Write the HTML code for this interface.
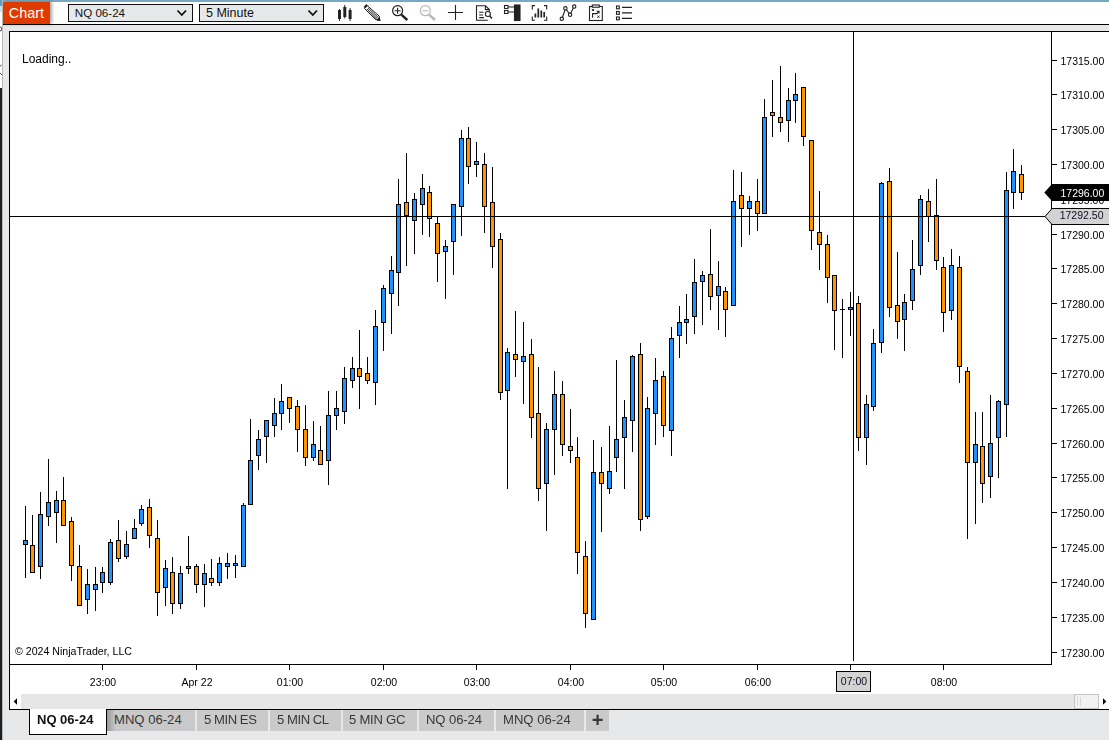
<!DOCTYPE html>
<html><head><meta charset="utf-8"><title>Chart</title>
<style>
html,body{margin:0;padding:0;}
body{-webkit-font-smoothing:antialiased;width:1109px;height:740px;overflow:hidden;background:#e7e8e9;font-family:"Liberation Sans",sans-serif;position:relative;}
.abs{position:absolute;}
#topstrip{left:0;top:0;width:1109px;height:2px;background:#78a9c2;}
#toolbar{left:3px;top:2px;width:1106px;height:22px;background:#fff;}
#tbline{left:3px;top:24px;width:1106px;height:1px;background:#000;}
#chartbtn{left:3px;top:2px;width:47px;height:22px;background:#df3b00;color:#fff;font-size:15px;line-height:22px;text-align:center;box-shadow:2px 0 3px rgba(0,0,0,.35);}
.dd{top:4px;height:16px;border:1px solid #111;background:#e6e9ea;font-size:12px;line-height:16px;color:#111;box-sizing:content-box;}
.dd span{position:absolute;left:6px;top:0;}
#leftstrip{left:0;top:0;width:2px;height:740px;background:linear-gradient(#5f9fbd 0,#5f9fbd 6px,#cfe0ea 6px,#cfe0ea 12px,#fff 12px,#fff 88px,#1d1f22 88px);}
#leftline{left:2px;top:0;width:1px;height:740px;background:#b8b8b8;}
#panel{left:9px;top:31px;width:1100px;height:679px;background:#fff;border-left:1px solid #000;border-top:1px solid #000;border-bottom:1px solid #000;box-sizing:border-box;}
svg text.ax{font-family:"Liberation Sans",sans-serif;font-size:10.5px;fill:#000;}
#scroll{left:10px;top:694px;width:1099px;height:15px;background:#e6e6e6;}
.tab{top:710px;height:21px;background:#cacaca;color:#383838;font-size:13.1px;line-height:20px;text-align:left;padding-left:7px;box-sizing:border-box;white-space:nowrap;}
#tabact{left:29px;top:709px;width:78px;height:26px;background:#fff;border:1px solid #000;border-top:none;box-sizing:border-box;font-weight:bold;font-size:13px;line-height:21px;text-align:left;padding-left:7px;color:#111;z-index:3;}
</style></head><body>
<div id="topstrip" class="abs"></div>
<div id="toolbar" class="abs"></div>
<div id="tbline" class="abs"></div>
<div id="leftstrip" class="abs"></div>
<div id="leftline" class="abs"></div>
<svg class="abs" style="left:0;top:0" width="2" height="100" viewBox="0 0 2 100"><g fill="none" stroke="#333" stroke-width="0.9"><circle cx="-0.3" cy="29" r="2.1"/><path d="M-0.5 66.5 Q1 66 2 64.5 M-0.5 73 Q1 73.5 2 75"/></g></svg>
<div id="chartbtn" class="abs"><span style="display:inline-block;transform:scaleX(.96);transform-origin:50% 50%">Chart</span></div>
<div class="abs dd" style="left:68px;width:123px;"><span style="font-size:11.6px;left:5.8px">NQ 06-24</span></div>
<div class="abs dd" style="left:199px;width:123px;"><span style="font-size:12.5px;left:6px">5 Minute</span></div>
<svg class="abs" style="left:0;top:0" width="1109" height="30" viewBox="0 0 1109 30">
<!-- dropdown chevrons -->
<path d="M177.5 10.5 L181.8 15 L186 10.5" fill="none" stroke="#111" stroke-width="1.8"/>
<path d="M308.5 10.5 L312.8 15 L317 10.5" fill="none" stroke="#111" stroke-width="1.8"/>
<!-- bars icon -->
<g fill="#222"><rect x="338" y="10" width="3" height="9"/><rect x="339" y="9" width="1" height="12"/>
<rect x="343.3" y="7" width="3" height="10"/><rect x="344.3" y="5" width="1" height="13.5"/>
<rect x="348.6" y="10" width="3" height="9"/><rect x="349.6" y="8" width="1" height="13"/></g>
<!-- pencil -->
<g fill="none" stroke="#222" stroke-width="1"><path d="M364.6 8.6 L367.4 5.7 L379.2 16.2 L379.9 20.5 L375.6 19.5 Z" fill="#fff"/><path d="M365.9 10 L376.4 19.7 M366.9 9 L377.6 18.9 M368 7.9 L378.6 17.8"/><path d="M364.3 7.6 L367 4.8" stroke-width="2"/><path d="M377.2 19.9 L379.9 20.6 L379.4 17.8 Z" fill="#222"/></g>
<!-- zoom in -->
<g fill="none" stroke="#222"><circle cx="397.6" cy="10.7" r="5" stroke-width="1.2"/><path d="M394.6 10.7 H400.6 M397.6 7.7 V13.7" stroke-width="1.1"/><path d="M401.3 14.6 L407.3 20" stroke-width="2.4"/></g>
<!-- zoom out -->
<g fill="none" stroke="#b9b9b9"><circle cx="425.3" cy="10.7" r="5" stroke-width="1.2"/><path d="M422.3 10.7 H428.3" stroke-width="1.1"/><path d="M429 14.6 L435 20" stroke-width="2.4"/></g>
<!-- crosshair -->
<path d="M448 12.5 H463 M455.5 5 V20" stroke="#222" stroke-width="1.1" fill="none"/>
<!-- doc search -->
<g fill="none" stroke="#222" stroke-width="1.1"><path d="M485.4 5.7 H476.5 V20.3 H487.8 M485.4 5.7 L489.3 9.6 V11.6 M485.4 5.7 V9.6 H489.3" /><path d="M479.2 12.3 H483.6 M479.2 15 H483 M479.2 17.6 H484"/><circle cx="487.9" cy="14" r="2.5" fill="#fff"/><path d="M489.7 15.9 L492 18.4" stroke-width="1.5"/></g>
<!-- data box -->
<g fill="none" stroke="#222" stroke-width="1.1"><rect x="504.5" y="5.5" width="3.5" height="3"/><rect x="504.5" y="10.5" width="3.5" height="3"/><path d="M508 7 H514.5 M508 12 H514.5"/><rect x="514.5" y="5" width="5.5" height="15.5" fill="#222"/></g>
<!-- bars in brackets -->
<g fill="none" stroke="#222" stroke-width="1.1"><path d="M535 5.6 H532.3 V9.4 M532.3 16.6 V20.2 H535 M544 5.6 H546.7 V9.4 M546.7 16.6 V20.2 H544"/><path d="M535.4 17.6 V13.4 M538.3 17.6 V8.4 M541.3 17.6 V10.6 M544.2 17.6 V12" stroke-width="1.7"/></g>
<!-- line chart -->
<g fill="#fff" stroke="#222" stroke-width="1.1"><path d="M562 18.5 L565.5 8.5 L570 14.5 L574 6.8" fill="none"/><circle cx="561.8" cy="18.8" r="1.7"/><circle cx="565.4" cy="8.3" r="1.7"/><circle cx="570.1" cy="14.8" r="1.7"/><circle cx="574.2" cy="6.6" r="1.7"/></g>
<!-- strategy doc -->
<g fill="none" stroke="#222" stroke-width="1.1"><rect x="589.5" y="6.5" width="12.8" height="14"/><rect x="592.3" y="5" width="7" height="2.2" fill="#fff"/><path d="M592.6 17.8 V13.6 H597 L598.8 11.4 M596.6 11.2 H599 V13.6" stroke-width="1.1"/><path d="M591.8 8.8 L594 11 M594 8.8 L591.8 11 M597.3 15.6 L599.5 17.8 M599.5 15.6 L597.3 17.8" stroke-width="1"/></g>
<!-- list -->
<g fill="none" stroke="#222" stroke-width="1.1"><rect x="616.5" y="6" width="2.8" height="2.8"/><rect x="616.5" y="11.5" width="2.8" height="2.8"/><rect x="616.5" y="17" width="2.8" height="2.8"/><path d="M622 7.4 H632 M622 12.9 H632 M622 18.4 H632"/></g>
</svg>
<div id="panel" class="abs"></div>
<div id="scroll" class="abs"></div>
<svg class="abs" style="left:0;top:0;will-change:transform" width="1109" height="740" viewBox="0 0 1109 740" shape-rendering="crispEdges">
<!-- axis lines -->
<rect x="1051" y="32" width="1" height="633" fill="#000"/>
<rect x="10" y="664" width="1042" height="1" fill="#000"/>
<rect x="25" y="506" width="1" height="72" fill="#000"/>
<rect x="23" y="540" width="5" height="5" fill="#000"/>
<rect x="24" y="541" width="3" height="3" fill="#1f92ff"/>
<rect x="32" y="515" width="1" height="58" fill="#000"/>
<rect x="30" y="545" width="5" height="28" fill="#000"/>
<rect x="31" y="546" width="3" height="26" fill="#ff9400"/>
<rect x="40" y="492" width="1" height="87" fill="#000"/>
<rect x="38" y="514" width="5" height="53" fill="#000"/>
<rect x="39" y="515" width="3" height="51" fill="#1f92ff"/>
<rect x="48" y="459" width="1" height="67" fill="#000"/>
<rect x="46" y="502" width="5" height="15" fill="#000"/>
<rect x="47" y="503" width="3" height="13" fill="#1f92ff"/>
<rect x="56" y="491" width="1" height="52" fill="#000"/>
<rect x="54" y="500" width="5" height="13" fill="#000"/>
<rect x="55" y="501" width="3" height="11" fill="#1f92ff"/>
<rect x="63" y="477" width="1" height="49" fill="#000"/>
<rect x="61" y="500" width="5" height="26" fill="#000"/>
<rect x="62" y="501" width="3" height="24" fill="#ff9400"/>
<rect x="71" y="517" width="1" height="64" fill="#000"/>
<rect x="69" y="521" width="5" height="45" fill="#000"/>
<rect x="70" y="522" width="3" height="43" fill="#ff9400"/>
<rect x="79" y="545" width="1" height="61" fill="#000"/>
<rect x="77" y="566" width="5" height="40" fill="#000"/>
<rect x="78" y="567" width="3" height="38" fill="#ff9400"/>
<rect x="87" y="569" width="1" height="45" fill="#000"/>
<rect x="85" y="584" width="5" height="16" fill="#000"/>
<rect x="86" y="585" width="3" height="14" fill="#1f92ff"/>
<rect x="95" y="567" width="1" height="44" fill="#000"/>
<rect x="93" y="584" width="5" height="6" fill="#000"/>
<rect x="94" y="585" width="3" height="4" fill="#1f92ff"/>
<rect x="102" y="567" width="1" height="26" fill="#000"/>
<rect x="100" y="572" width="5" height="11" fill="#000"/>
<rect x="101" y="573" width="3" height="9" fill="#1f92ff"/>
<rect x="110" y="539" width="1" height="46" fill="#000"/>
<rect x="108" y="542" width="5" height="41" fill="#000"/>
<rect x="109" y="543" width="3" height="39" fill="#1f92ff"/>
<rect x="118" y="520" width="1" height="42" fill="#000"/>
<rect x="116" y="540" width="5" height="19" fill="#000"/>
<rect x="117" y="541" width="3" height="17" fill="#ff9400"/>
<rect x="126" y="531" width="1" height="28" fill="#000"/>
<rect x="124" y="544" width="5" height="13" fill="#000"/>
<rect x="125" y="545" width="3" height="11" fill="#1f92ff"/>
<rect x="134" y="519" width="1" height="20" fill="#000"/>
<rect x="132" y="528" width="5" height="11" fill="#000"/>
<rect x="133" y="529" width="3" height="9" fill="#1f92ff"/>
<rect x="141" y="505" width="1" height="21" fill="#000"/>
<rect x="139" y="509" width="5" height="15" fill="#000"/>
<rect x="140" y="510" width="3" height="13" fill="#1f92ff"/>
<rect x="149" y="499" width="1" height="49" fill="#000"/>
<rect x="147" y="507" width="5" height="29" fill="#000"/>
<rect x="148" y="508" width="3" height="27" fill="#ff9400"/>
<rect x="157" y="520" width="1" height="96" fill="#000"/>
<rect x="155" y="538" width="5" height="55" fill="#000"/>
<rect x="156" y="539" width="3" height="53" fill="#ff9400"/>
<rect x="165" y="560" width="1" height="46" fill="#000"/>
<rect x="163" y="568" width="5" height="20" fill="#000"/>
<rect x="164" y="569" width="3" height="18" fill="#1f92ff"/>
<rect x="172" y="557" width="1" height="57" fill="#000"/>
<rect x="170" y="572" width="5" height="32" fill="#000"/>
<rect x="171" y="573" width="3" height="30" fill="#ff9400"/>
<rect x="180" y="566" width="1" height="43" fill="#000"/>
<rect x="178" y="573" width="5" height="31" fill="#000"/>
<rect x="179" y="574" width="3" height="29" fill="#1f92ff"/>
<rect x="188" y="536" width="1" height="38" fill="#000"/>
<rect x="186" y="566" width="5" height="3" fill="#000"/>
<rect x="187" y="567" width="3" height="1" fill="#1f92ff"/>
<rect x="196" y="564" width="1" height="29" fill="#000"/>
<rect x="194" y="566" width="5" height="19" fill="#000"/>
<rect x="195" y="567" width="3" height="17" fill="#ff9400"/>
<rect x="204" y="564" width="1" height="43" fill="#000"/>
<rect x="202" y="573" width="5" height="12" fill="#000"/>
<rect x="203" y="574" width="3" height="10" fill="#1f92ff"/>
<rect x="211" y="559" width="1" height="27" fill="#000"/>
<rect x="209" y="578" width="5" height="5" fill="#000"/>
<rect x="210" y="579" width="3" height="3" fill="#ff9400"/>
<rect x="219" y="557" width="1" height="29" fill="#000"/>
<rect x="217" y="563" width="5" height="20" fill="#000"/>
<rect x="218" y="564" width="3" height="18" fill="#1f92ff"/>
<rect x="227" y="553" width="1" height="26" fill="#000"/>
<rect x="225" y="563" width="5" height="4" fill="#000"/>
<rect x="226" y="564" width="3" height="2" fill="#1f92ff"/>
<rect x="235" y="555" width="1" height="23" fill="#000"/>
<rect x="233" y="563" width="5" height="3" fill="#000"/>
<rect x="234" y="564" width="3" height="1" fill="#1f92ff"/>
<rect x="243" y="503" width="1" height="64" fill="#000"/>
<rect x="241" y="505" width="5" height="62" fill="#000"/>
<rect x="242" y="506" width="3" height="60" fill="#1f92ff"/>
<rect x="250" y="419" width="1" height="86" fill="#000"/>
<rect x="248" y="460" width="5" height="45" fill="#000"/>
<rect x="249" y="461" width="3" height="43" fill="#1f92ff"/>
<rect x="258" y="430" width="1" height="40" fill="#000"/>
<rect x="256" y="439" width="5" height="17" fill="#000"/>
<rect x="257" y="440" width="3" height="15" fill="#1f92ff"/>
<rect x="266" y="420" width="1" height="43" fill="#000"/>
<rect x="264" y="420" width="5" height="17" fill="#000"/>
<rect x="265" y="421" width="3" height="15" fill="#1f92ff"/>
<rect x="274" y="398" width="1" height="39" fill="#000"/>
<rect x="272" y="413" width="5" height="13" fill="#000"/>
<rect x="273" y="414" width="3" height="11" fill="#1f92ff"/>
<rect x="281" y="384" width="1" height="46" fill="#000"/>
<rect x="279" y="401" width="5" height="13" fill="#000"/>
<rect x="280" y="402" width="3" height="11" fill="#1f92ff"/>
<rect x="289" y="397" width="1" height="26" fill="#000"/>
<rect x="287" y="397" width="5" height="12" fill="#000"/>
<rect x="288" y="398" width="3" height="10" fill="#ff9400"/>
<rect x="297" y="400" width="1" height="52" fill="#000"/>
<rect x="295" y="406" width="5" height="24" fill="#000"/>
<rect x="296" y="407" width="3" height="22" fill="#ff9400"/>
<rect x="305" y="405" width="1" height="61" fill="#000"/>
<rect x="303" y="429" width="5" height="29" fill="#000"/>
<rect x="304" y="430" width="3" height="27" fill="#ff9400"/>
<rect x="313" y="421" width="1" height="40" fill="#000"/>
<rect x="311" y="444" width="5" height="14" fill="#000"/>
<rect x="312" y="445" width="3" height="12" fill="#1f92ff"/>
<rect x="320" y="426" width="1" height="39" fill="#000"/>
<rect x="318" y="450" width="5" height="15" fill="#000"/>
<rect x="319" y="451" width="3" height="13" fill="#ff9400"/>
<rect x="328" y="391" width="1" height="94" fill="#000"/>
<rect x="326" y="415" width="5" height="46" fill="#000"/>
<rect x="327" y="416" width="3" height="44" fill="#1f92ff"/>
<rect x="336" y="391" width="1" height="39" fill="#000"/>
<rect x="334" y="408" width="5" height="8" fill="#000"/>
<rect x="335" y="409" width="3" height="6" fill="#1f92ff"/>
<rect x="344" y="367" width="1" height="57" fill="#000"/>
<rect x="342" y="378" width="5" height="34" fill="#000"/>
<rect x="343" y="379" width="3" height="32" fill="#1f92ff"/>
<rect x="352" y="357" width="1" height="31" fill="#000"/>
<rect x="350" y="368" width="5" height="13" fill="#000"/>
<rect x="351" y="369" width="3" height="11" fill="#1f92ff"/>
<rect x="359" y="330" width="1" height="79" fill="#000"/>
<rect x="357" y="368" width="5" height="9" fill="#000"/>
<rect x="358" y="369" width="3" height="7" fill="#ff9400"/>
<rect x="367" y="357" width="1" height="27" fill="#000"/>
<rect x="365" y="373" width="5" height="8" fill="#000"/>
<rect x="366" y="374" width="3" height="6" fill="#ff9400"/>
<rect x="375" y="310" width="1" height="95" fill="#000"/>
<rect x="373" y="326" width="5" height="57" fill="#000"/>
<rect x="374" y="327" width="3" height="55" fill="#1f92ff"/>
<rect x="383" y="285" width="1" height="66" fill="#000"/>
<rect x="381" y="288" width="5" height="35" fill="#000"/>
<rect x="382" y="289" width="3" height="33" fill="#1f92ff"/>
<rect x="391" y="256" width="1" height="78" fill="#000"/>
<rect x="389" y="270" width="5" height="24" fill="#000"/>
<rect x="390" y="271" width="3" height="22" fill="#1f92ff"/>
<rect x="398" y="179" width="1" height="127" fill="#000"/>
<rect x="396" y="204" width="5" height="69" fill="#000"/>
<rect x="397" y="205" width="3" height="67" fill="#1f92ff"/>
<rect x="406" y="153" width="1" height="113" fill="#000"/>
<rect x="404" y="202" width="5" height="14" fill="#000"/>
<rect x="405" y="203" width="3" height="12" fill="#ff9400"/>
<rect x="414" y="193" width="1" height="61" fill="#000"/>
<rect x="412" y="199" width="5" height="22" fill="#000"/>
<rect x="413" y="200" width="3" height="20" fill="#1f92ff"/>
<rect x="422" y="174" width="1" height="61" fill="#000"/>
<rect x="420" y="188" width="5" height="17" fill="#000"/>
<rect x="421" y="189" width="3" height="15" fill="#1f92ff"/>
<rect x="429" y="186" width="1" height="51" fill="#000"/>
<rect x="427" y="192" width="5" height="27" fill="#000"/>
<rect x="428" y="193" width="3" height="25" fill="#ff9400"/>
<rect x="437" y="216" width="1" height="66" fill="#000"/>
<rect x="435" y="223" width="5" height="31" fill="#000"/>
<rect x="436" y="224" width="3" height="29" fill="#ff9400"/>
<rect x="445" y="240" width="1" height="59" fill="#000"/>
<rect x="443" y="246" width="5" height="6" fill="#000"/>
<rect x="444" y="247" width="3" height="4" fill="#1f92ff"/>
<rect x="453" y="204" width="1" height="71" fill="#000"/>
<rect x="451" y="204" width="5" height="38" fill="#000"/>
<rect x="452" y="205" width="3" height="36" fill="#1f92ff"/>
<rect x="461" y="130" width="1" height="106" fill="#000"/>
<rect x="459" y="138" width="5" height="69" fill="#000"/>
<rect x="460" y="139" width="3" height="67" fill="#1f92ff"/>
<rect x="468" y="127" width="1" height="57" fill="#000"/>
<rect x="466" y="138" width="5" height="29" fill="#000"/>
<rect x="467" y="139" width="3" height="27" fill="#ff9400"/>
<rect x="476" y="142" width="1" height="35" fill="#000"/>
<rect x="474" y="161" width="5" height="4" fill="#000"/>
<rect x="475" y="162" width="3" height="2" fill="#1f92ff"/>
<rect x="484" y="153" width="1" height="80" fill="#000"/>
<rect x="482" y="164" width="5" height="43" fill="#000"/>
<rect x="483" y="165" width="3" height="41" fill="#ff9400"/>
<rect x="492" y="167" width="1" height="101" fill="#000"/>
<rect x="490" y="202" width="5" height="45" fill="#000"/>
<rect x="491" y="203" width="3" height="43" fill="#ff9400"/>
<rect x="500" y="233" width="1" height="167" fill="#000"/>
<rect x="498" y="239" width="5" height="154" fill="#000"/>
<rect x="499" y="240" width="3" height="152" fill="#ff9400"/>
<rect x="507" y="348" width="1" height="141" fill="#000"/>
<rect x="505" y="352" width="5" height="39" fill="#000"/>
<rect x="506" y="353" width="3" height="37" fill="#1f92ff"/>
<rect x="515" y="311" width="1" height="66" fill="#000"/>
<rect x="513" y="354" width="5" height="6" fill="#000"/>
<rect x="514" y="355" width="3" height="4" fill="#ff9400"/>
<rect x="523" y="322" width="1" height="82" fill="#000"/>
<rect x="521" y="356" width="5" height="6" fill="#000"/>
<rect x="522" y="357" width="3" height="4" fill="#1f92ff"/>
<rect x="531" y="339" width="1" height="99" fill="#000"/>
<rect x="529" y="354" width="5" height="64" fill="#000"/>
<rect x="530" y="355" width="3" height="62" fill="#ff9400"/>
<rect x="538" y="367" width="1" height="134" fill="#000"/>
<rect x="536" y="413" width="5" height="76" fill="#000"/>
<rect x="537" y="414" width="3" height="74" fill="#ff9400"/>
<rect x="546" y="423" width="1" height="108" fill="#000"/>
<rect x="544" y="429" width="5" height="55" fill="#000"/>
<rect x="545" y="430" width="3" height="53" fill="#1f92ff"/>
<rect x="554" y="371" width="1" height="104" fill="#000"/>
<rect x="552" y="394" width="5" height="36" fill="#000"/>
<rect x="553" y="395" width="3" height="34" fill="#1f92ff"/>
<rect x="562" y="381" width="1" height="75" fill="#000"/>
<rect x="560" y="394" width="5" height="51" fill="#000"/>
<rect x="561" y="395" width="3" height="49" fill="#ff9400"/>
<rect x="570" y="409" width="1" height="54" fill="#000"/>
<rect x="568" y="446" width="5" height="5" fill="#000"/>
<rect x="569" y="447" width="3" height="3" fill="#ff9400"/>
<rect x="577" y="437" width="1" height="137" fill="#000"/>
<rect x="575" y="457" width="5" height="96" fill="#000"/>
<rect x="576" y="458" width="3" height="94" fill="#ff9400"/>
<rect x="585" y="541" width="1" height="87" fill="#000"/>
<rect x="583" y="556" width="5" height="58" fill="#000"/>
<rect x="584" y="557" width="3" height="56" fill="#ff9400"/>
<rect x="593" y="440" width="1" height="180" fill="#000"/>
<rect x="591" y="472" width="5" height="148" fill="#000"/>
<rect x="592" y="473" width="3" height="146" fill="#1f92ff"/>
<rect x="601" y="447" width="1" height="85" fill="#000"/>
<rect x="599" y="472" width="5" height="12" fill="#000"/>
<rect x="600" y="473" width="3" height="10" fill="#ff9400"/>
<rect x="609" y="426" width="1" height="68" fill="#000"/>
<rect x="607" y="471" width="5" height="18" fill="#000"/>
<rect x="608" y="472" width="3" height="16" fill="#1f92ff"/>
<rect x="616" y="360" width="1" height="112" fill="#000"/>
<rect x="614" y="439" width="5" height="19" fill="#000"/>
<rect x="615" y="440" width="3" height="17" fill="#1f92ff"/>
<rect x="624" y="400" width="1" height="89" fill="#000"/>
<rect x="622" y="417" width="5" height="21" fill="#000"/>
<rect x="623" y="418" width="3" height="19" fill="#1f92ff"/>
<rect x="632" y="355" width="1" height="97" fill="#000"/>
<rect x="630" y="356" width="5" height="65" fill="#000"/>
<rect x="631" y="357" width="3" height="63" fill="#1f92ff"/>
<rect x="640" y="343" width="1" height="188" fill="#000"/>
<rect x="638" y="354" width="5" height="166" fill="#000"/>
<rect x="639" y="355" width="3" height="164" fill="#ff9400"/>
<rect x="647" y="397" width="1" height="122" fill="#000"/>
<rect x="645" y="408" width="5" height="109" fill="#000"/>
<rect x="646" y="409" width="3" height="107" fill="#1f92ff"/>
<rect x="655" y="358" width="1" height="87" fill="#000"/>
<rect x="653" y="380" width="5" height="34" fill="#000"/>
<rect x="654" y="381" width="3" height="32" fill="#1f92ff"/>
<rect x="663" y="371" width="1" height="66" fill="#000"/>
<rect x="661" y="376" width="5" height="50" fill="#000"/>
<rect x="662" y="377" width="3" height="48" fill="#ff9400"/>
<rect x="671" y="327" width="1" height="129" fill="#000"/>
<rect x="669" y="338" width="5" height="93" fill="#000"/>
<rect x="670" y="339" width="3" height="91" fill="#1f92ff"/>
<rect x="679" y="306" width="1" height="52" fill="#000"/>
<rect x="677" y="322" width="5" height="14" fill="#000"/>
<rect x="678" y="323" width="3" height="12" fill="#1f92ff"/>
<rect x="686" y="294" width="1" height="50" fill="#000"/>
<rect x="684" y="319" width="5" height="4" fill="#000"/>
<rect x="685" y="320" width="3" height="2" fill="#1f92ff"/>
<rect x="694" y="259" width="1" height="75" fill="#000"/>
<rect x="692" y="282" width="5" height="35" fill="#000"/>
<rect x="693" y="283" width="3" height="33" fill="#1f92ff"/>
<rect x="702" y="271" width="1" height="54" fill="#000"/>
<rect x="700" y="275" width="5" height="7" fill="#000"/>
<rect x="701" y="276" width="3" height="5" fill="#1f92ff"/>
<rect x="710" y="229" width="1" height="81" fill="#000"/>
<rect x="708" y="274" width="5" height="23" fill="#000"/>
<rect x="709" y="275" width="3" height="21" fill="#ff9400"/>
<rect x="718" y="261" width="1" height="69" fill="#000"/>
<rect x="716" y="286" width="5" height="10" fill="#000"/>
<rect x="717" y="287" width="3" height="8" fill="#1f92ff"/>
<rect x="725" y="287" width="1" height="50" fill="#000"/>
<rect x="723" y="291" width="5" height="19" fill="#000"/>
<rect x="724" y="292" width="3" height="17" fill="#ff9400"/>
<rect x="733" y="170" width="1" height="136" fill="#000"/>
<rect x="731" y="201" width="5" height="105" fill="#000"/>
<rect x="732" y="202" width="3" height="103" fill="#1f92ff"/>
<rect x="741" y="172" width="1" height="75" fill="#000"/>
<rect x="739" y="195" width="5" height="14" fill="#000"/>
<rect x="740" y="196" width="3" height="12" fill="#ff9400"/>
<rect x="749" y="196" width="1" height="39" fill="#000"/>
<rect x="747" y="201" width="5" height="8" fill="#000"/>
<rect x="748" y="202" width="3" height="6" fill="#1f92ff"/>
<rect x="757" y="179" width="1" height="52" fill="#000"/>
<rect x="755" y="201" width="5" height="13" fill="#000"/>
<rect x="756" y="202" width="3" height="11" fill="#ff9400"/>
<rect x="764" y="99" width="1" height="115" fill="#000"/>
<rect x="762" y="117" width="5" height="97" fill="#000"/>
<rect x="763" y="118" width="3" height="95" fill="#1f92ff"/>
<rect x="772" y="80" width="1" height="57" fill="#000"/>
<rect x="770" y="112" width="5" height="4" fill="#000"/>
<rect x="771" y="113" width="3" height="2" fill="#ff9400"/>
<rect x="780" y="66" width="1" height="66" fill="#000"/>
<rect x="778" y="117" width="5" height="6" fill="#000"/>
<rect x="779" y="118" width="3" height="4" fill="#ff9400"/>
<rect x="788" y="88" width="1" height="54" fill="#000"/>
<rect x="786" y="100" width="5" height="21" fill="#000"/>
<rect x="787" y="101" width="3" height="19" fill="#1f92ff"/>
<rect x="795" y="73" width="1" height="50" fill="#000"/>
<rect x="793" y="94" width="5" height="7" fill="#000"/>
<rect x="794" y="95" width="3" height="5" fill="#1f92ff"/>
<rect x="803" y="87" width="1" height="59" fill="#000"/>
<rect x="801" y="87" width="5" height="50" fill="#000"/>
<rect x="802" y="88" width="3" height="48" fill="#ff9400"/>
<rect x="811" y="140" width="1" height="110" fill="#000"/>
<rect x="809" y="140" width="5" height="91" fill="#000"/>
<rect x="810" y="141" width="3" height="89" fill="#ff9400"/>
<rect x="819" y="191" width="1" height="79" fill="#000"/>
<rect x="817" y="232" width="5" height="13" fill="#000"/>
<rect x="818" y="233" width="3" height="11" fill="#ff9400"/>
<rect x="827" y="235" width="1" height="68" fill="#000"/>
<rect x="825" y="244" width="5" height="34" fill="#000"/>
<rect x="826" y="245" width="3" height="32" fill="#ff9400"/>
<rect x="834" y="275" width="1" height="75" fill="#000"/>
<rect x="832" y="275" width="5" height="36" fill="#000"/>
<rect x="833" y="276" width="3" height="34" fill="#ff9400"/>
<rect x="842" y="299" width="1" height="59" fill="#000"/>
<rect x="840" y="309" width="5" height="1" fill="#000"/>
<rect x="850" y="292" width="1" height="44" fill="#000"/>
<rect x="848" y="307" width="5" height="3" fill="#000"/>
<rect x="849" y="308" width="3" height="1" fill="#1f92ff"/>
<rect x="858" y="296" width="1" height="155" fill="#000"/>
<rect x="856" y="303" width="5" height="135" fill="#000"/>
<rect x="857" y="304" width="3" height="133" fill="#ff9400"/>
<rect x="866" y="395" width="1" height="70" fill="#000"/>
<rect x="864" y="404" width="5" height="34" fill="#000"/>
<rect x="865" y="405" width="3" height="32" fill="#1f92ff"/>
<rect x="873" y="329" width="1" height="82" fill="#000"/>
<rect x="871" y="343" width="5" height="64" fill="#000"/>
<rect x="872" y="344" width="3" height="62" fill="#1f92ff"/>
<rect x="881" y="182" width="1" height="171" fill="#000"/>
<rect x="879" y="183" width="5" height="160" fill="#000"/>
<rect x="880" y="184" width="3" height="158" fill="#1f92ff"/>
<rect x="889" y="168" width="1" height="149" fill="#000"/>
<rect x="887" y="181" width="5" height="127" fill="#000"/>
<rect x="888" y="182" width="3" height="125" fill="#ff9400"/>
<rect x="897" y="252" width="1" height="87" fill="#000"/>
<rect x="895" y="305" width="5" height="17" fill="#000"/>
<rect x="896" y="306" width="3" height="15" fill="#ff9400"/>
<rect x="904" y="294" width="1" height="57" fill="#000"/>
<rect x="902" y="302" width="5" height="18" fill="#000"/>
<rect x="903" y="303" width="3" height="16" fill="#1f92ff"/>
<rect x="912" y="240" width="1" height="70" fill="#000"/>
<rect x="910" y="269" width="5" height="32" fill="#000"/>
<rect x="911" y="270" width="3" height="30" fill="#1f92ff"/>
<rect x="920" y="195" width="1" height="80" fill="#000"/>
<rect x="918" y="199" width="5" height="67" fill="#000"/>
<rect x="919" y="200" width="3" height="65" fill="#1f92ff"/>
<rect x="928" y="189" width="1" height="53" fill="#000"/>
<rect x="926" y="201" width="5" height="16" fill="#000"/>
<rect x="927" y="202" width="3" height="14" fill="#ff9400"/>
<rect x="936" y="179" width="1" height="91" fill="#000"/>
<rect x="934" y="215" width="5" height="46" fill="#000"/>
<rect x="935" y="216" width="3" height="44" fill="#ff9400"/>
<rect x="943" y="257" width="1" height="75" fill="#000"/>
<rect x="941" y="267" width="5" height="46" fill="#000"/>
<rect x="942" y="268" width="3" height="44" fill="#ff9400"/>
<rect x="951" y="249" width="1" height="71" fill="#000"/>
<rect x="949" y="265" width="5" height="46" fill="#000"/>
<rect x="950" y="266" width="3" height="44" fill="#1f92ff"/>
<rect x="959" y="256" width="1" height="127" fill="#000"/>
<rect x="957" y="267" width="5" height="100" fill="#000"/>
<rect x="958" y="268" width="3" height="98" fill="#ff9400"/>
<rect x="967" y="367" width="1" height="172" fill="#000"/>
<rect x="965" y="371" width="5" height="92" fill="#000"/>
<rect x="966" y="372" width="3" height="90" fill="#ff9400"/>
<rect x="975" y="412" width="1" height="112" fill="#000"/>
<rect x="973" y="444" width="5" height="19" fill="#000"/>
<rect x="974" y="445" width="3" height="17" fill="#1f92ff"/>
<rect x="982" y="412" width="1" height="91" fill="#000"/>
<rect x="980" y="446" width="5" height="38" fill="#000"/>
<rect x="981" y="447" width="3" height="36" fill="#ff9400"/>
<rect x="990" y="395" width="1" height="103" fill="#000"/>
<rect x="988" y="443" width="5" height="34" fill="#000"/>
<rect x="989" y="444" width="3" height="32" fill="#1f92ff"/>
<rect x="998" y="400" width="1" height="78" fill="#000"/>
<rect x="996" y="401" width="5" height="37" fill="#000"/>
<rect x="997" y="402" width="3" height="35" fill="#1f92ff"/>
<rect x="1006" y="172" width="1" height="265" fill="#000"/>
<rect x="1004" y="190" width="5" height="215" fill="#000"/>
<rect x="1005" y="191" width="3" height="213" fill="#1f92ff"/>
<rect x="1013" y="149" width="1" height="60" fill="#000"/>
<rect x="1011" y="171" width="5" height="22" fill="#000"/>
<rect x="1012" y="172" width="3" height="20" fill="#1f92ff"/>
<rect x="1021" y="165" width="1" height="35" fill="#000"/>
<rect x="1019" y="174" width="5" height="19" fill="#000"/>
<rect x="1020" y="175" width="3" height="17" fill="#ff9400"/>
<!-- crosshair -->
<rect x="10" y="216" width="1036" height="1" fill="#000"/>
<rect x="853" y="32" width="1" height="629" fill="#000"/>
<rect x="1052" y="60" width="5" height="1" fill="#000"/>
<text x="1060.5" y="64.5" class="ax">17315.00</text>
<rect x="1052" y="94" width="5" height="1" fill="#000"/>
<text x="1060.5" y="98.5" class="ax">17310.00</text>
<rect x="1052" y="129" width="5" height="1" fill="#000"/>
<text x="1060.5" y="133.5" class="ax">17305.00</text>
<rect x="1052" y="164" width="5" height="1" fill="#000"/>
<text x="1060.5" y="168.5" class="ax">17300.00</text>
<rect x="1052" y="199" width="5" height="1" fill="#000"/>
<text x="1060.5" y="203.5" class="ax">17295.00</text>
<rect x="1052" y="234" width="5" height="1" fill="#000"/>
<text x="1060.5" y="238.5" class="ax">17290.00</text>
<rect x="1052" y="268" width="5" height="1" fill="#000"/>
<text x="1060.5" y="272.5" class="ax">17285.00</text>
<rect x="1052" y="303" width="5" height="1" fill="#000"/>
<text x="1060.5" y="307.5" class="ax">17280.00</text>
<rect x="1052" y="338" width="5" height="1" fill="#000"/>
<text x="1060.5" y="342.5" class="ax">17275.00</text>
<rect x="1052" y="373" width="5" height="1" fill="#000"/>
<text x="1060.5" y="377.5" class="ax">17270.00</text>
<rect x="1052" y="408" width="5" height="1" fill="#000"/>
<text x="1060.5" y="412.5" class="ax">17265.00</text>
<rect x="1052" y="443" width="5" height="1" fill="#000"/>
<text x="1060.5" y="447.5" class="ax">17260.00</text>
<rect x="1052" y="477" width="5" height="1" fill="#000"/>
<text x="1060.5" y="481.5" class="ax">17255.00</text>
<rect x="1052" y="512" width="5" height="1" fill="#000"/>
<text x="1060.5" y="516.5" class="ax">17250.00</text>
<rect x="1052" y="547" width="5" height="1" fill="#000"/>
<text x="1060.5" y="551.5" class="ax">17245.00</text>
<rect x="1052" y="582" width="5" height="1" fill="#000"/>
<text x="1060.5" y="586.5" class="ax">17240.00</text>
<rect x="1052" y="617" width="5" height="1" fill="#000"/>
<text x="1060.5" y="621.5" class="ax">17235.00</text>
<rect x="1052" y="652" width="5" height="1" fill="#000"/>
<text x="1060.5" y="656.5" class="ax">17230.00</text>
<rect x="102" y="665" width="1" height="5" fill="#000"/>
<text x="103.0" y="686" class="ax" text-anchor="middle">23:00</text>
<rect x="196" y="665" width="1" height="5" fill="#000"/>
<text x="197.0" y="686" class="ax" text-anchor="middle">Apr 22</text>
<rect x="289" y="665" width="1" height="5" fill="#000"/>
<text x="290.0" y="686" class="ax" text-anchor="middle">01:00</text>
<rect x="383" y="665" width="1" height="5" fill="#000"/>
<text x="384.0" y="686" class="ax" text-anchor="middle">02:00</text>
<rect x="476" y="665" width="1" height="5" fill="#000"/>
<text x="477.0" y="686" class="ax" text-anchor="middle">03:00</text>
<rect x="570" y="665" width="1" height="5" fill="#000"/>
<text x="571.0" y="686" class="ax" text-anchor="middle">04:00</text>
<rect x="663" y="665" width="1" height="5" fill="#000"/>
<text x="664.0" y="686" class="ax" text-anchor="middle">05:00</text>
<rect x="757" y="665" width="1" height="5" fill="#000"/>
<text x="758.0" y="686" class="ax" text-anchor="middle">06:00</text>
<rect x="850" y="665" width="1" height="5" fill="#000"/>
<rect x="943" y="665" width="1" height="5" fill="#000"/>
<text x="944.0" y="686" class="ax" text-anchor="middle">08:00</text>
<!-- price markers -->
<polygon points="1044.3,192.5 1052,184 1109,184 1109,201 1052,201" fill="#000" shape-rendering="geometricPrecision"/>
<text x="1060.5" y="197" class="ax" style="fill:#fff">17296.00</text>
<polygon points="1045,216.5 1052,208.5 1110,208.5 1110,224.5 1052,224.5" fill="#d3d3d3" stroke="#000" stroke-width="1" shape-rendering="geometricPrecision"/>
<text x="1059.7" y="219.4" class="ax" style="fill:#0c0c22">17292.50</text>
<!-- time marker -->
<rect x="836.5" y="671.5" width="34" height="19.5" fill="#d3d3d3" stroke="#000" stroke-width="1"/>
<text x="854" y="685" class="ax" text-anchor="middle" style="fill:#0c0c22">07:00</text>
<!-- scrollbar bits -->
<rect x="10" y="694" width="11" height="15" fill="#fff"/>
<polygon points="13.6,701.5 17,698.2 17,704.8" fill="#000" shape-rendering="geometricPrecision"/>
<rect x="1074.5" y="694.5" width="24" height="14" fill="#f2f2f2" stroke="#c4c4c4" shape-rendering="geometricPrecision"/>
<rect x="1077" y="697" width="1" height="9" fill="#d8d8d8"/><rect x="1080" y="697" width="1" height="9" fill="#d8d8d8"/>
<rect x="1099" y="694" width="10" height="15" fill="#fff"/>
<polygon points="1106.4,701.5 1103,698.2 1103,704.8" fill="#000" shape-rendering="geometricPrecision"/>
<text x="22" y="63" style="font-family:'Liberation Sans',sans-serif;font-size:12px;fill:#000">Loading..</text>
<text x="15" y="655" style="font-family:'Liberation Sans',sans-serif;font-size:10.6px;fill:#000">© 2024 NinjaTrader, LLC</text>
</svg>
<!-- tabs -->
<div id="tabact" class="abs">NQ 06-24</div>
<div class="abs tab" style="left:107px;width:88px;background:linear-gradient(90deg,#9a9a9a 0,#c9c9c9 9px);">MNQ 06-24</div>
<div class="abs tab" style="left:197px;width:71px;letter-spacing:-0.45px">5 MIN ES</div>
<div class="abs tab" style="left:270px;width:71px;letter-spacing:-0.45px">5 MIN CL</div>
<div class="abs tab" style="left:343px;width:74px;letter-spacing:-0.25px;padding-left:6px">5 MIN GC</div>
<div class="abs tab" style="left:419px;width:75px;letter-spacing:-0.1px">NQ 06-24</div>
<div class="abs tab" style="left:496px;width:88px;">MNQ 06-24</div>
<div class="abs tab" style="left:586px;width:23px;font-weight:bold;font-size:20px;line-height:21px;padding-left:0;text-align:center">+</div>
</body></html>
